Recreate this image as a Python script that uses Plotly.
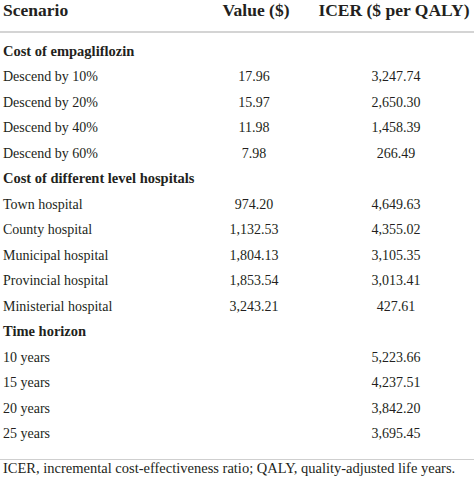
import plotly.graph_objects as go

# ---- data ----
columns = ["Scenario", "Value ($)", "ICER ($ per QALY)"]
sections = ["Cost of empagliflozin", "Cost of different level hospitals", "Time horizon"]
scen_emp = ["Descend by 10%", "Descend by 20%", "Descend by 40%", "Descend by 60%"]
value_emp = ["17.96", "15.97", "11.98", "7.98"]
icer_emp = ["3,247.74", "2,650.30", "1,458.39", "266.49"]
scen_hosp = ["Town hospital", "County hospital", "Municipal hospital", "Provincial hospital", "Ministerial hospital"]
value_hosp = ["974.20", "1,132.53", "1,804.13", "1,853.54", "3,243.21"]
icer_hosp = ["4,649.63", "4,355.02", "3,105.35", "3,013.41", "427.61"]
scen_time = ["10 years", "15 years", "20 years", "25 years"]
value_time = ["", "", "", ""]
icer_time = ["5,223.66", "4,237.51", "3,842.20", "3,695.45"]
footnote = "ICER, incremental cost-effectiveness ratio; QALY, quality-adjusted life years."

# ---- build rows ----
rows = []  # (label, value, icer, is_section)
for sec, sc, va, ic in [(sections[0], scen_emp, value_emp, icer_emp),
                        (sections[1], scen_hosp, value_hosp, icer_hosp),
                        (sections[2], scen_time, value_time, icer_time)]:
    rows.append((sec, "", "", True))
    for s, v, i in zip(sc, va, ic):
        rows.append((s, v, i, False))

ys = list(range(1, len(rows) + 1))
FONT = "Liberation Serif, Times New Roman, serif"
COLOR = "#231f20"
X_LEFT, X_VAL, X_ICER = 3, 254, 396

fig = go.Figure()

sec_y = [y for y, r in zip(ys, rows) if r[3]]
sec_t = [r[0] for r in rows if r[3]]
body_y = [y for y, r in zip(ys, rows) if not r[3]]
body_t = [r[0] for r in rows if not r[3]]
val_y = [y for y, r in zip(ys, rows) if not r[3] and r[1]]
val_t = [r[1] for r in rows if not r[3] and r[1]]
icer_y = [y for y, r in zip(ys, rows) if not r[3]]
icer_t = [r[2] for r in rows if not r[3]]

def txt(x, y, t, pos, size, bold=False):
    fig.add_trace(go.Scatter(
        x=x, y=y, text=[f"<b>{s}</b>" if bold else s for s in t], mode="text",
        textposition=pos, textfont=dict(family=FONT, size=size, color=COLOR),
        hoverinfo="skip", showlegend=False, cliponaxis=False))

HEADER_Y = -0.57
txt([X_LEFT], [HEADER_Y], [columns[0]], "middle right", 17.5, True)
txt([256], [HEADER_Y], [columns[1]], "middle center", 17.5, True)
txt([394], [HEADER_Y], [columns[2]], "middle center", 17.5, True)

txt([X_LEFT] * len(sec_y), sec_y, sec_t, "middle right", 14.5, True)
txt([X_LEFT] * len(body_y), body_y, body_t, "middle right", 14)
txt([X_VAL] * len(val_y), val_y, val_t, "middle center", 14)
txt([X_ICER] * len(icer_y), icer_y, icer_t, "middle center", 14)

txt([X_LEFT], [17.38], [footnote], "middle right", 14.5)

fig.add_shape(type="line", x0=0, x1=474, y0=0.215, y1=0.215,
              line=dict(color="#d4d4d4", width=2.2), layer="below")
fig.add_shape(type="line", x0=0, x1=474, y0=16.98, y1=16.98,
              line=dict(color="#cfcfcf", width=1.2), layer="below")

fig.update_layout(
    width=474, height=479, margin=dict(l=0, r=0, t=0, b=0),
    paper_bgcolor="white", plot_bgcolor="white",
    xaxis=dict(range=[0, 474], visible=False, fixedrange=True),
    yaxis=dict(range=[1 + (479 - 52) / 25.5, 1 - 52 / 25.5], visible=False, fixedrange=True),
)
fig.write_html("out.html", config={"displayModeBar": False},
               post_script="document.body.style.margin='0';document.body.style.overflow='hidden';")
